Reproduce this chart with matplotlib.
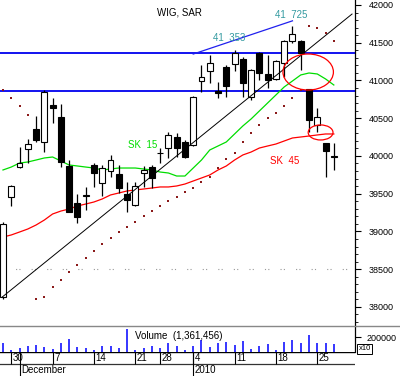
import matplotlib
matplotlib.use('Agg')
import matplotlib.pyplot as plt
from matplotlib.patches import Ellipse
from matplotlib.lines import Line2D
from matplotlib.ticker import MultipleLocator, FixedLocator

# daily candles, 27 Nov 2009 .. 27 Jan 2010 (index = trading day)
OPEN = [38131, 39456, 39854, 40092, 40357, 40185, 40675, 40516, 39867, 39377,
        39475, 39880, 39642, 39801, 39761, 39496, 39350, 39774, 39854, 40035,
        40105, 40251, 40185, 40145, 40993, 41126, 40861, 41179, 41218, 41285,
        40781, 41364, 41086, 41020, 41232, 41523, 41523, 40887, 40410, 40172, 40000]
HIGH = [39130, 39615, 40119, 40225, 40529, 40874, 40768, 40688, 39946, 39496,
        39589, 39907, 39880, 40013, 39880, 39655, 39655, 39867, 39880, 40105,
        40317, 40304, 40211, 40794, 41205, 41338, 40980, 41205, 41404, 41311,
        41150, 41377, 41338, 41271, 41536, 41725, 41536, 40887, 40635, 40172, 40172]
LOW = [38100, 39337, 39840, 39907, 40185, 40052, 40437, 39854, 39257, 39112,
       39284, 39589, 39469, 39721, 39509, 39257, 39337, 39589, 39575, 39907,
       39973, 39986, 39973, 40132, 40847, 40967, 40768, 40781, 41126, 40781,
       40741, 41006, 40900, 41006, 41046, 41497, 41139, 40317, 40317, 39721, 39814]
CLOSE = [39098, 39602, 39907, 40158, 40211, 40847, 40635, 39920, 39257, 39191,
         39485, 39774, 39841, 39946, 39575, 39416, 39602, 39814, 39708, 40045,
         40278, 40105, 39986, 40781, 41046, 41232, 40834, 40927, 41364, 40967,
         41139, 41099, 41006, 41258, 41523, 41616, 41364, 40476, 40516, 40066, 39990]

SK_15 = [39814, 39853, 39906, 39920, 39946, 39973, 39986, 39933, 39880, 39867,
         39853, 39840, 39814, 39827, 39840, 39840, 39840, 39827, 39814, 39787,
         39774, 39734, 39734, 39840, 39946, 40079, 40132, 40185, 40291, 40397,
         40490, 40596, 40702, 40808, 40914, 40993, 41073, 41099, 41086, 41020, 40940]
SK_45 = [38926, 38953, 38992, 39032, 39085, 39151, 39231, 39270, 39297, 39337,
         39363, 39390, 39430, 39483, 39509, 39536, 39549, 39562, 39575, 39589,
         39589, 39602, 39628, 39668, 39708, 39748, 39814, 39867, 39946, 40013,
         40052, 40105, 40132, 40158, 40198, 40238, 40251, 40264, 40278, 40291, 40291]
SAR = [40874, 40768, 40662, 40543, 38105, 38131, 38264, 38356, 38462, 38555,
       38648, 38741, 38833, 38913, 38992, 39059, 39125, 39204, 39271, 39337,
       39403, 39456, 39522, 39575, 39655, 39721, 39840, 39960, 40039, 40185,
       40304, 40410, 40503, 40569, 40662, 40768, 40874, 41722, 41695, 41629, 41523]
VOLUME = [120000, 31000, 57000, 76000, 89000, 67000, 40000, 120000, 169000, 67000,
          57000, 31000, 76000, 76000, 57000, 311000, 31000, 57000, 76000, 57000,
          120000, 76000, 31000, 76000, 156000, 67000, 120000, 133000, 96000, 147000,
          44000, 78000, 111000, 23000, 133000, 156000, 120000, 227000, 120000, 120000, 103000]

DAY_TICK_IDX = [1, 6, 11, 16, 19, 23, 28, 33, 38]
DAY_TICK_LABELS = ['30', '7', '14', '21', '28', '4', '11', '18', '25']
MONTH_TICK_IDX = [2, 23]
MONTH_LABELS = ['December', '2010']

SUPPORT_LEVELS = [41370, 40860]
TREND_X, TREND_Y = [-0.1, 42.2], [38130, 41880]
TOP_LINE_X, TOP_LINE_Y = [23, 35], [41350, 41790]

X_LIM = (-0.36, 42.56)
PRICE_LIM = (37747, 42066)
VOLUME_LIM = (0, 346667)
FONT = 'Liberation Sans'
W, H = 400, 376


def _draw_candles(ax):
    for i, (o, h, l, c) in enumerate(zip(OPEN, HIGH, LOW, CLOSE)):
        ax.vlines(i, l, h, color='black', lw=0.9, zorder=3)
        body_bottom = min(o, c)
        body_height = max(abs(c - o), 4)
        face = 'white' if c >= o else 'black'
        ax.bar(i, body_height, bottom=body_bottom, width=0.72, color=face,
               edgecolor='black', lw=0.8, zorder=4)


def _draw_price_panel(ax):
    for level in SUPPORT_LEVELS:
        ax.axhline(level, color='#0000ee', lw=1.3, zorder=2)
    ax.axhline(38500, color='#999999', lw=0.8, ls=(0, (1, 2, 1, 10)), zorder=1)

    x = list(range(len(CLOSE)))
    ax.plot(x, SK_15, color='#00dd00', lw=0.9, zorder=2)
    ax.plot(x, SK_45, color='#ff0000', lw=0.9, zorder=2)
    ax.plot(TREND_X, TREND_Y, color='black', lw=0.7, zorder=5)
    ax.plot(TOP_LINE_X, TOP_LINE_Y, color='#2020ee', lw=0.9, zorder=2)
    ax.scatter(x, SAR, s=3, marker='s', color='#8b1a1a', lw=0, zorder=6)

    _draw_candles(ax)

    ax.add_patch(Ellipse((36.9, 41112), 6.1, 477, fill=False, ec='#ff0000', lw=0.9, zorder=7))
    ax.add_patch(Ellipse((38.4, 40311), 3.0, 199, fill=False, ec='#ff0000', lw=0.9, zorder=7))

    ax.text(18.6, 41907, 'WIG, SAR', fontsize=7, family=FONT, va='center')
    ax.text(32.9, 41867, '41  725', fontsize=7, family=FONT, va='center', color='#339aa0')
    ax.text(25.4, 41563, '41  353', fontsize=7, family=FONT, va='center', color='#339aa0')
    ax.text(15.1, 40145, 'SK  15', fontsize=7, family=FONT, va='center', color='#00dd00')
    ax.text(32.3, 39933, 'SK  45', fontsize=7, family=FONT, va='center', color='#ff0000')

    ax.set_xlim(*X_LIM)
    ax.set_ylim(*PRICE_LIM)
    ax.set_xticks([])
    for side in ('left', 'top', 'bottom'):
        ax.spines[side].set_visible(False)
    ax.spines['right'].set_linewidth(0.9)
    ax.yaxis.tick_right()
    ax.yaxis.set_major_locator(FixedLocator([38000, 38500, 39000, 39500, 40000,
                                             40500, 41000, 41500, 42000]))
    ax.yaxis.set_minor_locator(MultipleLocator(100))
    ax.tick_params(axis='y', which='major', length=4, width=0.8, pad=6, labelsize=6.5)
    ax.tick_params(axis='y', which='minor', length=2, width=0.6)
    for label in ax.get_yticklabels():
        label.set_family(FONT)


def _draw_volume_panel(ax):
    ax.vlines(range(len(VOLUME)), 0, VOLUME, color='#0000ff', lw=1.1)
    ax.text(15.96, 213333, 'Volume  (1,361,456)', fontsize=7, family=FONT, va='center')
    ax.set_xlim(*X_LIM)
    ax.set_ylim(*VOLUME_LIM)
    ax.set_xticks([])
    for side in ('left', 'top', 'bottom'):
        ax.spines[side].set_visible(False)
    ax.spines['right'].set_linewidth(0.9)
    ax.yaxis.tick_right()
    ax.set_yticks([200000])
    ax.tick_params(axis='y', length=4, width=0.8, pad=4, labelsize=6.5)
    for label in ax.get_yticklabels():
        label.set_family(FONT)
    ax.text(1.01, 0.12, 'x10', transform=ax.transAxes, fontsize=5.5, family=FONT,
            va='center', bbox=dict(boxstyle='square,pad=0.15', fc='white', ec='black', lw=0.7))


def _draw_date_panel(ax):
    ax.set_xlim(*X_LIM)
    ax.set_ylim(0, 1)
    ax.axis('off')
    ax.axhline(1.0, color='black', lw=1.0)
    ax.axhline(0.5, color='#333333', lw=0.9)
    for idx, label in zip(DAY_TICK_IDX, DAY_TICK_LABELS):
        ax.vlines(idx, 0.5, 1.0, color='black', lw=0.8)
        ax.text(idx + 0.2, 0.74, label, fontsize=7, family=FONT, va='center')
    for idx, label in zip(MONTH_TICK_IDX, MONTH_LABELS):
        ax.vlines(idx, 0.0, 1.0, color='black', lw=0.8)
        ax.text(idx + 0.2, 0.24, label, fontsize=7, family=FONT, va='center')


def plot_wig_chart():
    fig = plt.figure(figsize=(W / 100, H / 100), dpi=100)
    fig.patch.set_facecolor('white')
    axes_width = 355 / W
    price_ax = fig.add_axes([0, (H - 326) / H, axes_width, 326 / H])
    volume_ax = fig.add_axes([0, (H - 352) / H, axes_width, 26 / H])
    date_ax = fig.add_axes([0, 0, axes_width, (H - 352) / H])

    _draw_price_panel(price_ax)
    _draw_volume_panel(volume_ax)
    _draw_date_panel(date_ax)

    sep_y = (H - 326) / H
    fig.add_artist(Line2D([0, 1], [sep_y, sep_y], color='#888888', lw=1.0))

    fig.savefig('out.png', dpi=100)
    plt.close(fig)


if __name__ == '__main__':
    plot_wig_chart()
